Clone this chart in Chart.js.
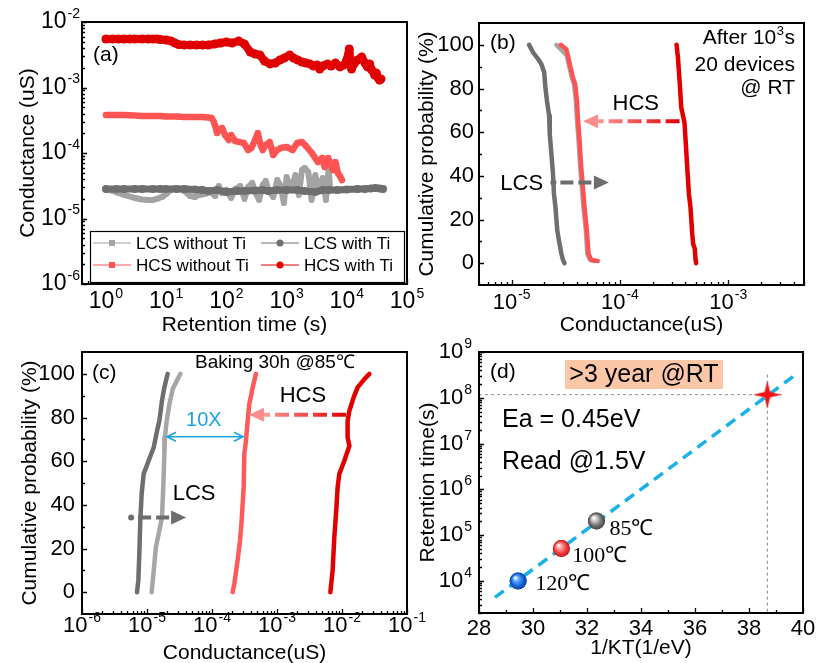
<!DOCTYPE html>
<html><head><meta charset="utf-8"><title>Retention characteristics</title>
<script src="https://cdn.jsdelivr.net/npm/chart.js@4.4.1/dist/chart.umd.min.js"></script>
<style>
html,body{margin:0;padding:0;background:#fff;}
body{width:817px;height:663px;position:relative;overflow:hidden;}
canvas{position:absolute;}
</style></head><body>
<canvas id="ca" width="430" height="340" style="left:0;top:0"></canvas>
<canvas id="cb" width="417" height="340" style="left:400px;top:0"></canvas>
<canvas id="cc" width="430" height="333" style="left:0;top:330px"></canvas>
<canvas id="cd" width="417" height="333" style="left:400px;top:330px"></canvas>
<script>
// ---------- (a) retention vs time ----------
const aTimeLcsNoTi=[1,1.3,1.6,2,3,4,5,6,7,8.5,10,12,14,17,20,25,30,35,44,55,65,75,85,100,120,140,170,200,230,270,300,350,400,450,500,600,700,800,900,1000,1200,1400,1600,1800,2000,2300,2600,3000,3500,4000,4500,5000,5300];
const aCondLcsNoTi=[2.82e-5,2.63e-5,2.45e-5,2.29e-5,2.06e-5,1.95e-5,1.92e-5,1.92e-5,1.99e-5,2.13e-5,2.37e-5,2.72e-5,2.92e-5,2.82e-5,2.63e-5,2.21e-5,2.13e-5,2.29e-5,2.37e-5,2.54e-5,2.21e-5,3.13e-5,2.45e-5,2.72e-5,2.06e-5,2.82e-5,3.13e-5,1.99e-5,3.03e-5,3.48e-5,2.54e-5,1.92e-5,3.25e-5,3.74e-5,2.72e-5,2.13e-5,3.87e-5,3.13e-5,1.72e-5,4.30e-5,2.72e-5,4.60e-5,2.29e-5,5.50e-5,5.90e-5,5.10e-5,1.92e-5,4.60e-5,2.72e-5,4.15e-5,1.92e-5,5.90e-5,2.72e-5];
const aTimeLcsTi=[1,1.5,2,3,4,6,8,10,15,20,30,40,50,70,100,150,200,300,400,500,700,1000,1500,2000,3000,4000,5000,7000,10000,15000,20000,25000,30000,35000,40000];
const aCondLcsTi=[2.82e-5,2.82e-5,2.82e-5,2.82e-5,2.82e-5,2.82e-5,2.82e-5,2.82e-5,2.82e-5,2.82e-5,2.77e-5,2.72e-5,2.63e-5,2.72e-5,2.54e-5,2.63e-5,2.63e-5,2.68e-5,2.72e-5,2.63e-5,2.72e-5,2.72e-5,2.72e-5,2.63e-5,2.54e-5,2.72e-5,2.72e-5,2.72e-5,2.77e-5,2.82e-5,2.82e-5,2.87e-5,2.92e-5,2.87e-5,2.82e-5];
const aTimeHcsNoTi=[1,1.5,2,3,4,6,8,10,15,20,30,40,50,57,62,66,70,75,85,95,110,120,140,167,195,230,260,300,333,370,400,450,525,600,690,800,1000,1260,1500,1800,2100,2630,3300,3900,4300,4900,5900,6500,7100,7700,8300];
const aCondHcsNoTi=[3.80e-4,3.80e-4,3.80e-4,3.74e-4,3.67e-4,3.67e-4,3.67e-4,3.61e-4,3.61e-4,3.55e-4,3.55e-4,3.55e-4,3.49e-4,3.42e-4,2.97e-4,2.49e-4,2.02e-4,2.24e-4,2.41e-4,1.88e-4,1.58e-4,1.88e-4,1.52e-4,1.47e-4,1.42e-4,1.11e-4,1.19e-4,1.58e-4,2.02e-4,1.33e-4,1.11e-4,1.33e-4,1.47e-4,9.31e-5,1.11e-4,1.19e-4,1.24e-4,1.11e-4,1.42e-4,1.47e-4,1.28e-4,1.00e-4,7.29e-5,8.39e-5,6.11e-5,8.39e-5,5.50e-5,7.29e-5,4.95e-5,4.45e-5,3.87e-5];
const aTimeHcsTi=[1,1.3,1.6,2,2.5,3,4,5,6,7,8,10,12,14,16,20,25,32,40,50,64,80,100,125,160,200,250,300,360,430,530,650,775,920,1130,1300,1530,1800,2100,2430,2800,3200,3550,4000,4800,5500,6500,7700,9000,10000,11000,11500,12000,13500,15000,17700,20000,22000,24000,26000,29000,31000,33000,35000,37000];
const aCondHcsTi=[5.5e-3,5.5e-3,5.5e-3,5.5e-3,5.5e-3,5.5e-3,5.5e-3,5.5e-3,5.5e-3,5.5e-3,5.41e-3,5.31e-3,5.13e-3,4.78e-3,4.53e-3,4.45e-3,4.45e-3,4.45e-3,4.45e-3,4.45e-3,4.61e-3,4.78e-3,4.95e-3,4.78e-3,5.13e-3,4.61e-3,3.48e-3,3.25e-3,3.13e-3,2.54e-3,2.29e-3,2.37e-3,2.63e-3,2.82e-3,3.13e-3,2.82e-3,2.63e-3,2.45e-3,2.37e-3,2.29e-3,2.13e-3,2.21e-3,1.92e-3,2.13e-3,2.29e-3,2.13e-3,2.37e-3,2.06e-3,2.21e-3,2.63e-3,3.87e-3,2.63e-3,1.92e-3,2.37e-3,2.63e-3,2.92e-3,2.37e-3,2.06e-3,2.29e-3,1.85e-3,1.55e-3,1.66e-3,1.40e-3,1.30e-3,1.35e-3];
const aSeriesLabels=['LCS without Ti','LCS with Ti','HCS without Ti','HCS with Ti'];
const aXTickExp=[0,1,2,3,4,5];
const aYTickExp=[-6,-5,-4,-3,-2];

// ---------- (b) cumulative distribution after 10^3 s ----------
const bCondLcsTi=[1.45e-5,1.58e-5,1.76e-5,1.88e-5,2.00e-5,2.05e-5,2.12e-5,2.22e-5,2.25e-5,2.33e-5,2.41e-5,2.46e-5,2.54e-5,2.64e-5,2.77e-5,2.88e-5,2.98e-5,3.08e-5];
const bProbLcsTi=[100,96.5,93.4,91.2,87.3,80.5,74.4,67.5,59.1,50,40.9,31.7,25.6,14.9,8.8,4.3,1.5,0];
const bCondLcsNoTi=[2.59e-5,2.98e-5,3.24e-5,3.42e-5,3.60e-5,3.77e-5,3.92e-5,4.00e-5,4.15e-5,4.30e-5,4.45e-5,4.60e-5,4.85e-5,5.00e-5,5.30e-5,5.80e-5];
const bProbLcsNoTi=[100,97,95,89.6,85,82,74.4,66.8,56.1,43.9,34.8,25.6,14.9,4.3,1.5,1];
const bCondHcsNoTi=[2.84e-5,3.20e-5,3.31e-5,3.50e-5,3.68e-5,3.86e-5,4.01e-5,4.09e-5,4.24e-5,4.39e-5,4.55e-5,4.71e-5,4.95e-5,5.13e-5,5.42e-5,6.24e-5];
const bProbHcsNoTi=[100,98,95,89.6,85,82,74.4,66.8,56.1,43.9,34.8,25.6,14.9,4.3,1.5,1];
const bCondHcsTi=[3.33e-4,3.43e-4,3.57e-4,3.68e-4,3.94e-4,4.04e-4,4.18e-4,4.33e-4,4.48e-4,4.65e-4,4.74e-4,4.91e-4,4.98e-4,5.05e-4];
const bProbHcsTi=[100,94.2,82,71.3,64.5,56.1,43.9,31.7,25.6,13.4,8.8,6.6,2,0];
const bXTickExp=[-5,-4,-3];
const probTicks=[0,20,40,60,80,100];
const probMinorTicks=[10,30,50,70,90];

// ---------- (c) cumulative distribution after baking ----------
const cCondLcs1=[2.08e-5,1.85e-5,1.70e-5,1.55e-5,1.43e-5,1.27e-5,8.89e-6,8.28e-6,7.89e-6,7.62e-6,7.36e-6,7.02e-6];
const cProbLcs1=[100,93.8,87.7,78.5,74,66.4,54.2,45.1,32.9,17.7,5.5,0];
const cCondLcs2=[3.26e-5,2.48e-5,2.21e-5,2.01e-5,1.89e-5,1.85e-5,1.78e-5,1.70e-5,1.55e-5,1.37e-5,1.27e-5,1.18e-5];
const cProbLcs2=[100,93,86.1,78.5,70.9,63.3,48.1,34.4,28.3,20.7,10,0];
const cCondHcs2=[4.75e-4,4.23e-4,3.75e-4,3.54e-4,3.33e-4,3.14e-4,3.07e-4,2.86e-4,2.70e-4,2.48e-4,2.21e-4,2.08e-4];
const cProbHcs2=[100,93.8,86.1,78.5,69.4,63.3,48.1,32.9,23.7,14.6,4,0];
const cCondHcs1=[2.64e-2,2.21e-2,1.74e-2,1.51e-2,1.30e-2,1.22e-2,1.22e-2,1.30e-2,1.09e-2,9.10e-3,8.57e-3,8.09e-3,7.62e-3,7.18e-3,6.62e-3];
const cProbHcs1=[100,97.6,93.8,89.2,83.1,78.5,70.9,67.1,60.3,54.2,48.1,35.9,25.3,10,0];
const cXTickExp=[-6,-5,-4,-3,-2,-1];

// ---------- (d) Arrhenius extrapolation ----------
const dInvKT=[29.45,31.05,32.35];
const dRetention=[1e4,5.1e4,2.05e5];
const dTempLabels=['120℃','100℃','85℃'];
const dExtrapInvKT=[38.68];
const dExtrapRetention=[1.17e8];
const dFitInvKT=[28.59,39.73];
const dFitRetention=[4.37e3,3.21e8];
const dGuideHX=[28,39.3], dGuideHY=[1.17e8,1.17e8];
const dGuideVX=[38.68,38.68], dGuideVY=[3.2e8,2e3];
const dXTicks=[28,30,32,34,36,38,40];
const dXMinorTicks=[29,31,33,35,37,39];
const dYTickExp=[4,5,6,7,8,9];

// ---------- helpers ----------
const SANS='"Liberation Sans", Arial, Helvetica, sans-serif';
const SERIF='"Liberation Serif", "Times New Roman", serif';
const F=(px,fam)=>px+'px '+(fam||SANS);
const zip=(xs,ys)=>xs.map((x,i)=>({x:x,y:ys[i]}));
Chart.defaults.font.family=SANS;

function supText(ctx,x,y,base,sup,align,size){
  const ss=Math.round(size*0.63);
  ctx.font=F(size); const wb=ctx.measureText(base).width;
  ctx.font=F(ss); const ws=sup!==''?ctx.measureText(sup).width+1:0;
  const w=wb+ws; const sx=align==='center'?x-w/2:(align==='right'?x-w:x);
  ctx.fillStyle='#000'; ctx.textAlign='left'; ctx.textBaseline='middle';
  ctx.font=F(size); ctx.fillText(base,sx,y);
  if(sup!==''){ctx.font=F(ss); ctx.fillText(sup,sx+wb+1,y-size*0.36);}
}
function text(ctx,s,x,y,size,align,color,fam){
  ctx.font=F(size,fam); ctx.fillStyle=color||'#000'; ctx.textAlign=align||'center'; ctx.textBaseline='middle'; ctx.fillText(s,x,y);
}
function vtext(ctx,s,x,y,size){
  ctx.save(); ctx.translate(x,y); ctx.rotate(-Math.PI/2); text(ctx,s,0,0,size); ctx.restore();
}
function logTickList(min,max){
  const out=[];
  for(let e=Math.floor(Math.log10(min));e<=Math.ceil(Math.log10(max));e++){
    for(let k=1;k<10;k++){const v=k*Math.pow(10,e); if(v>=min*0.999&&v<=max*1.001) out.push({v:v,major:k===1});}
  }
  return out;
}
function linTickList(major,minor){return major.map(v=>({v:v,major:true})).concat(minor.map(v=>({v:v,major:false})));}
function frameAndTicks(chart,xt,yt){
  const {ctx,chartArea:a,scales}=chart;
  ctx.save(); ctx.strokeStyle='#000'; ctx.lineWidth=1.3; ctx.beginPath();
  xt.forEach(t=>{const p=Math.round(scales.x.getPixelForValue(t.v))+0.5; ctx.moveTo(p,a.bottom); ctx.lineTo(p,a.bottom-(t.major?5:3));});
  yt.forEach(t=>{const p=Math.round(scales.y.getPixelForValue(t.v))+0.5; ctx.moveTo(a.left,p); ctx.lineTo(a.left+(t.major?5:3),p);});
  ctx.stroke();
  ctx.lineWidth=2; ctx.strokeRect(a.left,a.top,a.right-a.left,a.bottom-a.top);
  ctx.restore();
}
function expStr(e){return e<0?'-'+Math.abs(e):String(e);}
function hArrow(ctx,x0,x1,y,o){
  const dir=Math.sign(x1-x0), base=x1-dir*o.head;
  ctx.save();
  let sx=x0;
  if(o.dot){ctx.fillStyle=o.color; ctx.beginPath(); ctx.arc(x0,y,o.dot,0,2*Math.PI); ctx.fill(); sx=x0+dir*(o.dot+4);}
  let st=o.color;
  if(o.grad){const g=ctx.createLinearGradient(sx,0,base,0); g.addColorStop(0,o.grad[0]); g.addColorStop(1,o.grad[1]); st=g;}
  ctx.strokeStyle=st; ctx.lineWidth=o.width; ctx.setLineDash(o.dash); ctx.lineCap='butt';
  ctx.beginPath(); ctx.moveTo(sx,y); ctx.lineTo(base,y); ctx.stroke(); ctx.setLineDash([]);
  ctx.fillStyle=o.headColor||o.color; ctx.beginPath(); ctx.moveTo(x1,y); ctx.lineTo(base,y-o.hw); ctx.lineTo(base,y+o.hw); ctx.closePath(); ctx.fill();
  ctx.restore();
}
function dblArrow(ctx,x0,x1,y,color){
  ctx.save(); ctx.strokeStyle=color; ctx.lineWidth=1.6; ctx.beginPath();
  ctx.moveTo(x0,y); ctx.lineTo(x1,y);
  ctx.moveTo(x0+9,y-4.5); ctx.lineTo(x0,y); ctx.lineTo(x0+9,y+4.5);
  ctx.moveTo(x1-9,y-4.5); ctx.lineTo(x1,y); ctx.lineTo(x1-9,y+4.5);
  ctx.stroke(); ctx.restore();
}

function makeChart(id,W,H,area,xOpt,yOpt,datasets,draw){
  const base={grid:{display:false},border:{display:false},ticks:{display:false},title:{display:false}};
  return new Chart(document.getElementById(id),{
    type:'scatter',
    data:{datasets:datasets},
    options:{
      responsive:false,animation:false,devicePixelRatio:1,
      layout:{padding:{left:0,top:area.top,right:W-area.right,bottom:0}},
      plugins:{legend:{display:false},tooltip:{enabled:false}},
      scales:{
        x:Object.assign({},base,xOpt,{afterFit:s=>{s.height=H-area.bottom;}}),
        y:Object.assign({},base,yOpt,{afterFit:s=>{s.width=area.left;}})
      }
    },
    plugins:[{id:'decor'+id,afterDatasetsDraw:draw}]
  });
}
function lineDs(label,data,color,width,order,extra){
  return Object.assign({label:label,data:data,showLine:true,borderColor:color,backgroundColor:color,borderWidth:width,
    pointRadius:0,pointHoverRadius:0,borderJoinStyle:'round',borderCapStyle:'round',order:order,clip:false},extra||{});
}

// ---------- chart (a) ----------
const colA=['#a3a3a3','#6e6e6e','#ff5454','#e00000'];
makeChart('ca',430,340,{left:82,top:22,right:407,bottom:284},
  {type:'logarithmic',min:0.4,max:1e5},{type:'logarithmic',min:1e-6,max:1e-2},
  [
    lineDs(aSeriesLabels[0],zip(aTimeLcsNoTi,aCondLcsNoTi),colA[0],6,4,{pointRadius:3.5,pointStyle:'rect',pointBorderWidth:0,pointBackgroundColor:colA[0],clip:undefined}),
    lineDs(aSeriesLabels[1],zip(aTimeLcsTi,aCondLcsTi),colA[1],7,3,{pointRadius:4,pointStyle:'circle',pointBorderWidth:0,pointBackgroundColor:colA[1],clip:undefined}),
    lineDs(aSeriesLabels[2],zip(aTimeHcsNoTi,aCondHcsNoTi),colA[2],6.5,2,{pointRadius:3.5,pointStyle:'rect',pointBorderWidth:0,pointBackgroundColor:colA[2],clip:undefined}),
    lineDs(aSeriesLabels[3],zip(aTimeHcsTi,aCondHcsTi),colA[3],8,1,{pointRadius:4.5,pointStyle:'circle',pointBorderWidth:0,pointBackgroundColor:colA[3],clip:undefined})
  ],
  function(chart){
    const {ctx,chartArea:a,scales:{x,y}}=chart;
    frameAndTicks(chart,logTickList(0.4,1e5),logTickList(1e-6,1e-2));
    aXTickExp.forEach(e=>supText(ctx,x.getPixelForValue(Math.pow(10,e)),a.bottom+18,'10',expStr(e),'center',23));
    aYTickExp.forEach(e=>supText(ctx,a.left-2,y.getPixelForValue(Math.pow(10,e)),'10',expStr(e),'right',23));
    text(ctx,'Retention time (s)',(a.left+a.right)/2,a.bottom+41,21);
    vtext(ctx,'Conductance (uS)',28,(a.top+a.bottom)/2,21);
    text(ctx,'(a)',a.left+11,a.top+33,21,'left');
    // legend
    const lx=90,ly=231,lw=314,lh=51;
    ctx.save(); ctx.fillStyle='#fff'; ctx.fillRect(lx,ly,lw,lh); ctx.strokeStyle='#000'; ctx.lineWidth=1.2; ctx.strokeRect(lx+0.5,ly+0.5,lw,lh);
    chart.data.datasets.forEach((ds,i)=>{
      const col=i%2,row=Math.floor(i/2);
      const x0=[93,261][col], yy=ly+12+row*22;
      ctx.strokeStyle=ds.borderColor; ctx.lineWidth=1.2; ctx.beginPath(); ctx.moveTo(x0,yy); ctx.lineTo(x0+38,yy); ctx.stroke();
      ctx.fillStyle=ds.borderColor;
      if(ds.pointStyle==='rect'){ctx.fillRect(x0+16,yy-3,6,6);} else {ctx.beginPath(); ctx.arc(x0+19,yy,3.5,0,2*Math.PI); ctx.fill();}
      text(ctx,ds.label,x0+43,yy+1,17,'left');
    });
    ctx.restore();
  });

// ---------- chart (b) ----------
makeChart('cb',417,340,{left:79,top:23,right:404,bottom:285},
  {type:'logarithmic',min:5e-6,max:5e-3},{type:'linear',min:-10,max:110},
  [
    lineDs('LCS with Ti',zip(bCondLcsTi,bProbLcsTi),'#6e6e6e',4.5,1),
    lineDs('LCS without Ti',zip(bCondLcsNoTi,bProbLcsNoTi),'#a6a6a6',4.5,3),
    lineDs('HCS without Ti',zip(bCondHcsNoTi,bProbHcsNoTi),'#ff5252',4.5,2),
    lineDs('HCS with Ti',zip(bCondHcsTi,bProbHcsTi),'#e00000',4.5,1)
  ],
  function(chart){
    const {ctx,chartArea:a,scales:{x,y}}=chart;
    frameAndTicks(chart,logTickList(5e-6,5e-3),linTickList(probTicks,probMinorTicks));
    bXTickExp.forEach(e=>supText(ctx,x.getPixelForValue(Math.pow(10,e)),a.bottom+18,'10',expStr(e),'center',22));
    probTicks.forEach(v=>text(ctx,String(v),a.left-5,y.getPixelForValue(v),22,'right'));
    text(ctx,'Conductance(uS)',(a.left+a.right)/2,a.bottom+40,21);
    vtext(ctx,'Cumulative probability (%)',27,(a.top+a.bottom)/2,21);
    text(ctx,'(b)',a.left+11,a.top+20,21,'left');
    // top-right note
    const rx=a.right-9;
    ctx.font=F(21); const ws=ctx.measureText('s').width; ctx.font=F(13); const w3=ctx.measureText('3').width;
    text(ctx,'s',rx,a.top+15,21,'right'); text(ctx,'3',rx-ws-0.5,a.top+8,13,'right'); text(ctx,'After 10',rx-ws-w3-1,a.top+15,21,'right');
    text(ctx,'20 devices',rx,a.top+42,21,'right');
    text(ctx,'@ RT',rx,a.top+65,21,'right');
    text(ctx,'HCS',x.getPixelForValue(1.4e-4),y.getPixelForValue(73),22);
    text(ctx,'LCS',x.getPixelForValue(1.24e-5),y.getPixelForValue(36.5),22);
    hArrow(ctx,x.getPixelForValue(3.55e-4),x.getPixelForValue(4.57e-5),y.getPixelForValue(65),
      {color:'#e00000',grad:['#e00000','#ff9a9a'],headColor:'#ff8c8c',width:4,dash:[14,5],head:15,hw:7});
    hArrow(ctx,x.getPixelForValue(2.43e-5),x.getPixelForValue(7.9e-5),y.getPixelForValue(37),
      {color:'#6d6d6d',dot:3,width:4,dash:[13,5],head:15,hw:7});
  });

// ---------- chart (c) ----------
makeChart('cc',430,333,{left:82,top:22,right:407,bottom:284},
  {type:'logarithmic',min:1e-6,max:1e-1},{type:'linear',min:-10,max:110},
  [
    lineDs('LCS 1',zip(cCondLcs1,cProbLcs1),'#6e6e6e',4.5,1),
    lineDs('LCS 2',zip(cCondLcs2,cProbLcs2),'#a6a6a6',4.5,2),
    lineDs('HCS 2',zip(cCondHcs2,cProbHcs2),'#ff5a5a',4.5,1),
    lineDs('HCS 1',zip(cCondHcs1,cProbHcs1),'#e00000',4.5,1)
  ],
  function(chart){
    const {ctx,chartArea:a,scales:{x,y}}=chart;
    frameAndTicks(chart,logTickList(1e-6,1e-1),linTickList(probTicks,probMinorTicks));
    cXTickExp.forEach(e=>supText(ctx,x.getPixelForValue(Math.pow(10,e)),a.bottom+12,'10',expStr(e),'center',22));
    probTicks.forEach(v=>text(ctx,String(v),a.left-7,y.getPixelForValue(v),22,'right'));
    text(ctx,'Conductance(uS)',(a.left+a.right)/2,a.bottom+39,21);
    vtext(ctx,'Cumulative probability (%)',30,(a.top+a.bottom)/2,21);
    text(ctx,'(c)',a.left+10,a.top+21,21,'left');
    text(ctx,'Baking 30h @85℃',a.left+193,a.top+11,19);
    text(ctx,'HCS',x.getPixelForValue(2.5e-3),y.getPixelForValue(90),22);
    hArrow(ctx,x.getPixelForValue(1.15e-2),x.getPixelForValue(3.7e-4),y.getPixelForValue(81.3),
      {color:'#e00000',grad:['#e00000','#ff9a9a'],headColor:'#ff8c8c',width:4,dash:[14,5],head:15,hw:7});
    text(ctx,'10X',x.getPixelForValue(7.5e-5),y.getPixelForValue(78.5),20,'center','#1ca4e0');
    dblArrow(ctx,x.getPixelForValue(2.03e-5),x.getPixelForValue(3.0e-4),y.getPixelForValue(71.2),'#1ca4e0');
    text(ctx,'LCS',x.getPixelForValue(5.3e-5),y.getPixelForValue(45.2),22);
    hArrow(ctx,x.getPixelForValue(5.7e-6),x.getPixelForValue(4e-5),y.getPixelForValue(34.2),
      {color:'#6d6d6d',dot:3,width:4,dash:[13,5],head:15,hw:7});
  });

// ---------- chart (d) ----------
const starCanvas=document.createElement('canvas'); starCanvas.width=28; starCanvas.height=28;
(function(){const c=starCanvas.getContext('2d'); c.fillStyle='#f01414'; c.beginPath();
  const P=[[14,0],[16.8,11.2],[28,14],[16.8,16.8],[14,28],[11.2,16.8],[0,14],[11.2,11.2]];
  P.forEach((p,i)=>i?c.lineTo(p[0],p[1]):c.moveTo(p[0],p[1])); c.closePath(); c.fill();})();
const sphereStyle=[{base:'#1565d8',light:'#5aa6ff',dark:'#0b3f9a'},{base:'#f23a3a',light:'#ff9a9a',dark:'#b81c1c'},{base:'#6e6e6e',light:'#c8c8c8',dark:'#444'}];
makeChart('cd',417,333,{left:79,top:22,right:404,bottom:283},
  {type:'linear',min:28,max:40},{type:'logarithmic',min:2e3,max:1e9},
  [
    lineDs('Measured',zip(dInvKT,dRetention),'#6e6e6e',0,1,{showLine:false,pointRadius:8.5,pointBorderWidth:0,pointBackgroundColor:sphereStyle.map(s=>s.base)}),
    lineDs('Extrapolated',zip(dExtrapInvKT,dExtrapRetention),'#f01414',0,1,{showLine:false,pointRadius:14,pointStyle:starCanvas}),
    lineDs('Fit',zip(dFitInvKT,dFitRetention),'#1ab0ea',3.5,3,{borderDash:[11,7],borderCapStyle:'butt'}),
    lineDs('Guide H',zip(dGuideHX,dGuideHY),'#8a8a8a',1,4,{borderDash:[3,3],borderCapStyle:'butt'}),
    lineDs('Guide V',zip(dGuideVX,dGuideVY),'#8a8a8a',1,4,{borderDash:[3,3],borderCapStyle:'butt'})
  ],
  function(chart){
    const {ctx,chartArea:a,scales:{x,y}}=chart;
    chart.getDatasetMeta(0).data.forEach((el,i)=>{
      const s=sphereStyle[i], r=8.5;
      const g=ctx.createRadialGradient(el.x-r*0.35,el.y-r*0.4,r*0.05,el.x,el.y,r);
      g.addColorStop(0,'#ffffff'); g.addColorStop(0.3,s.light); g.addColorStop(0.7,s.base); g.addColorStop(1,s.dark);
      ctx.fillStyle=g; ctx.beginPath(); ctx.arc(el.x,el.y,r,0,2*Math.PI); ctx.fill();
    });
    const offs=[[17,3],[11,8],[13,8]];
    chart.getDatasetMeta(0).data.forEach((el,i)=>text(ctx,dTempLabels[i],el.x+offs[i][0],el.y+offs[i][1],22,'left','#000',SERIF));
    frameAndTicks(chart,linTickList(dXTicks,dXMinorTicks),logTickList(2e3,1e9));
    dXTicks.forEach(v=>text(ctx,String(v),x.getPixelForValue(v),a.bottom+16,22));
    dYTickExp.forEach(e=>supText(ctx,a.left-7,y.getPixelForValue(Math.pow(10,e)),'10',expStr(e),'right',22));
    text(ctx,'1/KT(1/eV)',(a.left+a.right)/2,a.bottom+35,21);
    vtext(ctx,'Retention time(s)',28,(a.top+a.bottom)/2,21);
    text(ctx,'(d)',a.left+11,a.top+20,21,'left');
    ctx.fillStyle='#fbc7a6'; ctx.fillRect(a.left+86,a.top+8,158,29);
    text(ctx,'>3 year @RT',a.left+165,a.top+23,25);
    text(ctx,'Ea = 0.45eV',a.left+23,a.top+68,25,'left');
    text(ctx,'Read @1.5V',a.left+23,a.top+110,25,'left');
  });
</script></body></html>
